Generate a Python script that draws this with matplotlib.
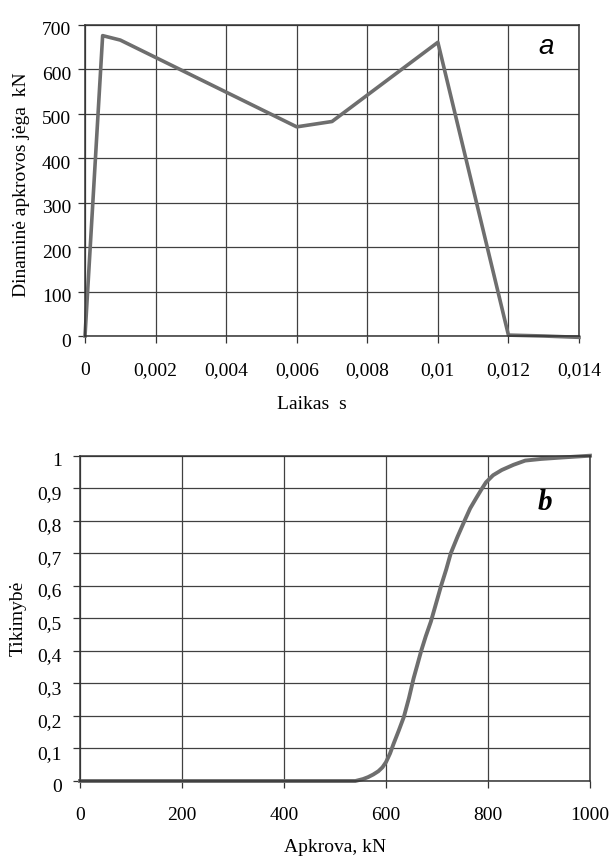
import matplotlib
matplotlib.use("Agg")
import matplotlib.pyplot as plt
import matplotlib.transforms as mtransforms
from matplotlib.ticker import FuncFormatter

plt.rcParams['font.family'] = ['Liberation Serif', 'DejaVu Serif']

# Panel a data
time_s = [0, 0.0005, 0.001, 0.006, 0.007, 0.010, 0.012, 0.013, 0.014]
force_kN = [0, 675, 665, 470, 482, 660, 2, 0, -3]
xticks_a = [0, 0.002, 0.004, 0.006, 0.008, 0.010, 0.012, 0.014]
yticks_a = [0, 100, 200, 300, 400, 500, 600, 700]

# Panel b data
load_kN = [0, 100, 200, 300, 400, 500, 540, 555, 565, 575, 585, 593, 600, 608, 615,
           625, 635, 645, 654, 662, 669, 678, 688, 698, 708, 718, 727, 740, 754,
           765, 777, 787, 796, 810, 827, 850, 873, 904, 950, 1000]
prob = [0, 0, 0, 0, 0, 0, 0, 0.006, 0.012, 0.02, 0.03, 0.042, 0.058, 0.085, 0.115,
        0.155, 0.197, 0.255, 0.315, 0.36, 0.40, 0.445, 0.49, 0.545, 0.60, 0.65,
        0.70, 0.75, 0.80, 0.838, 0.87, 0.896, 0.918, 0.94, 0.956, 0.972, 0.985,
        0.99, 0.995, 1.0]
xticks_b = [0, 200, 400, 600, 800, 1000]
yticks_b = [0, 0.1, 0.2, 0.3, 0.4, 0.5, 0.6, 0.7, 0.8, 0.9, 1.0]

W, H = 615, 857
fig = plt.figure(figsize=(W / 100, H / 100), dpi=100)

line_color = '#6e6e6e'
grid_color = '#404040'
fs = 14


def comma(v, pos):
    if v == 0:
        return '0'
    s = ('%.3f' % v).rstrip('0').rstrip('.')
    return s.replace('.', ',')


def style(ax, ypad):
    ax.grid(True, color=grid_color, linewidth=0.9)
    ax.set_axisbelow(True)
    for sp in ax.spines.values():
        sp.set_color('#333333')
        sp.set_linewidth(1.1)
    ax.tick_params(direction='out', length=5, width=0.9, color='#333333',
                   labelsize=fs)
    ax.tick_params(axis='x', pad=14)
    ax.tick_params(axis='y', pad=ypad)
    ax.xaxis.set_major_formatter(FuncFormatter(comma))
    ax.yaxis.set_major_formatter(FuncFormatter(comma))
    off = mtransforms.ScaledTranslation(0, -3 / 72, fig.dpi_scale_trans)
    for lab in ax.get_yticklabels():
        lab.set_transform(lab.get_transform() + off)


# Panel a
ax1 = fig.add_axes([85 / W, 1 - 336 / H, (579 - 85) / W, (336 - 24.5) / H])
ax1.plot(time_s, force_kN, color=line_color, linewidth=2.6, clip_on=False)
ax1.set_xlim(0, 0.014)
ax1.set_ylim(0, 700)
ax1.set_xticks(xticks_a)
ax1.set_yticks(yticks_a)
style(ax1, 5)
fig.text(312 / W, 1 - 405 / H, 'Laikas  s', fontsize=fs, ha='center', va='center')
fig.text(21.6 / W, 1 - 185 / H, 'Dinaminė apkrovos jėga  kN', fontsize=fs,
         rotation=90, ha='center', va='center')
ax1.text(0.01308, 650, 'a', fontsize=20, fontstyle='italic',
         family=['Liberation Sans', 'DejaVu Sans'], ha='center', va='center')

# Panel b
ax2 = fig.add_axes([80 / W, 1 - 781 / H, (590 - 80) / W, (781 - 455.7) / H])
ax2.plot(load_kN, prob, color=line_color, linewidth=2.8, clip_on=False)
ax2.set_xlim(0, 1000)
ax2.set_ylim(0, 1)
ax2.set_xticks(xticks_b)
ax2.set_yticks(yticks_b)
style(ax2, 8)
fig.text(335 / W, 1 - 848 / H, 'Apkrova, kN', fontsize=fs, ha='center', va='center')
fig.text(17.7 / W, 1 - 618 / H, 'Tikimybė', fontsize=fs, rotation=90,
         ha='center', va='center')
ax2.text(911, 0.856, 'b', fontsize=21, fontstyle='italic', fontweight='bold',
         ha='center', va='center')

fig.savefig('out.png', dpi=100)
